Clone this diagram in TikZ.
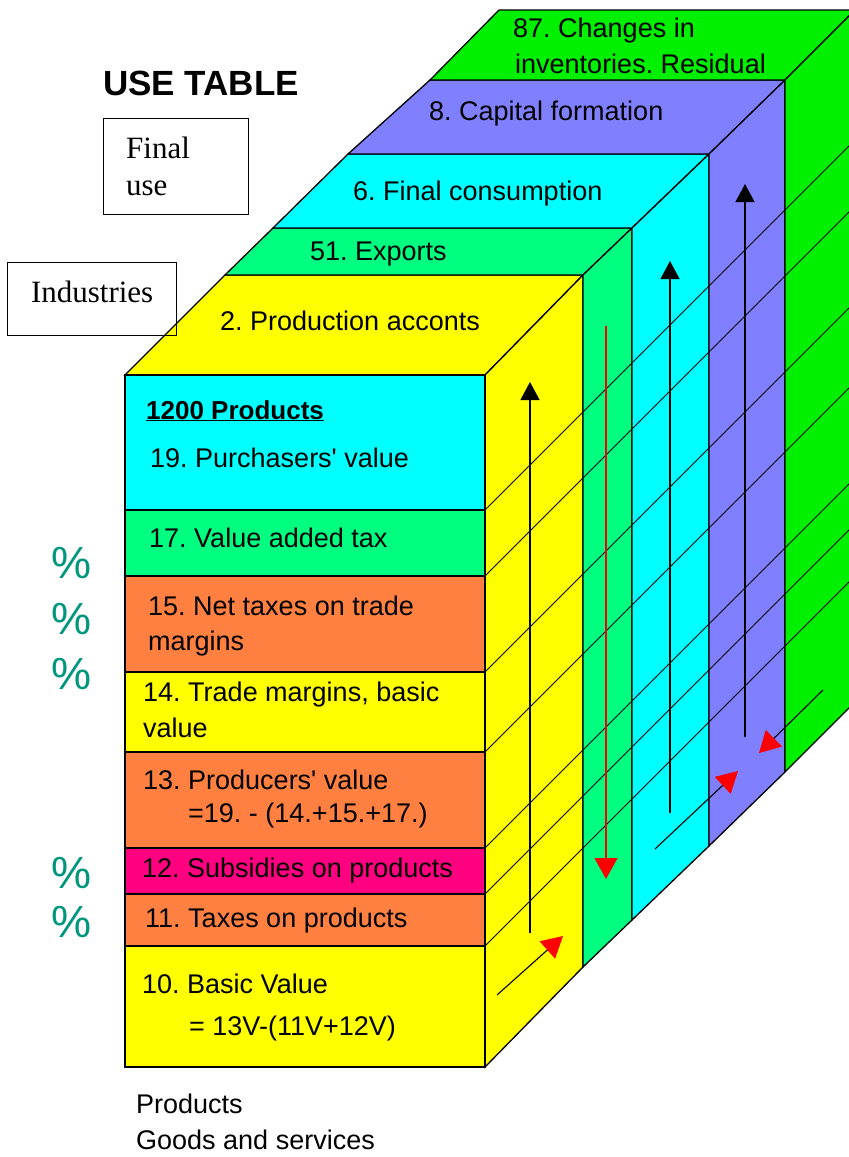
\documentclass[tikz,border=0pt]{standalone}
\usepackage{fontspec}
\setmainfont{Liberation Sans}
\newfontfamily\boxfont{Liberation Serif}
\usetikzlibrary{arrows.meta}
\definecolor{prodyellow}{HTML}{FFFF00}
\definecolor{expgreen}{HTML}{00FF80}
\definecolor{conscyan}{HTML}{00FFFF}
\definecolor{capblue}{HTML}{8080FF}
\definecolor{invgreen}{HTML}{00F000}
\definecolor{taxorange}{HTML}{FF8040}
\definecolor{submagenta}{HTML}{FF0080}
\definecolor{pctteal}{HTML}{00967D}
\frenchspacing

\begin{document}
\begin{tikzpicture}[x=1pt, y=-1pt,
  edge/.style={line width=1.3pt},
  lbl/.style={anchor=base west, inner sep=0pt, font=\fontsize{27}{32}\selectfont},
  boxlbl/.style={draw, line width=1.3pt, anchor=north west, font=\boxfont\fontsize{31}{37}\selectfont},
  pct/.style={text=pctteal, font=\fontsize{45}{50}\selectfont},
  upar/.style={line width=1.2pt, -{Triangle[width=19pt,length=18pt]}},
  redar/.style={line width=1.1pt, -{Triangle[width=23pt,length=21pt,color=red,fill=red]}}]
\useasboundingbox (0,0) rectangle (849,1157);
\clip (0,0) rectangle (849,1157);

\foreach \la/\ya/\ra/\lb/\yb/\rb/\col in {125/375/485/225/275/583/prodyellow, 225/275/583/273/228/632/expgreen,
    273/228/632/348/154/709/conscyan, 348/154/709/430/80/785/capblue, 430/80/785/499/10/855/invgreen} {
  \filldraw[fill=\col, edge] (\la,\ya) -- (\ra,\ya) -- (\rb,\yb) -- (\lb,\yb) -- cycle;
  \filldraw[fill=\col, edge] (\ra,\ya) -- (\rb,\yb) -- (\rb,\yb+692) -- (\ra,\ya+692) -- cycle;
}

\foreach \ya/\yb/\col in {375/510/conscyan, 510/576/expgreen, 576/672/taxorange, 672/752/prodyellow,
    752/848/taxorange, 848/894/submagenta, 894/946/taxorange, 946/1067/prodyellow}
  \filldraw[fill=\col, edge] (125,\ya) rectangle (485,\yb);

\foreach \y in {510,576,672,752,848,894,946}
  \draw[line width=0.9pt] (485,\y) -- ++(370,-370);

\coordinate (prodtail) at (530,933);  \coordinate (prodhead) at (530,382);
\coordinate (expotail) at (606,326);  \coordinate (expohead) at (606,879);
\coordinate (constail) at (670,813);  \coordinate (conshead) at (670,261);
\coordinate (captail) at (745,737);   \coordinate (caphead) at (745,184);
\coordinate (flowa) at (497,995);     \coordinate (flowahead) at (563,936);
\coordinate (flowb) at (655,849);     \coordinate (flowbhead) at (738,771);
\coordinate (flowc) at (823,690);     \coordinate (flowchead) at (759,753);
\draw[upar] (prodtail) -- (prodhead);
\draw[upar] (constail) -- (conshead);
\draw[upar] (captail) -- (caphead);
\draw[redar, red] (expotail) -- (expohead);
\draw[redar] (flowa) -- (flowahead);
\draw[redar] (flowb) -- (flowbhead);
\draw[redar] (flowc) -- (flowchead);

\node[lbl] (inva) at (513,37) {87. Changes in};
\node[lbl] (invb) at (515,73) {inventories. Residual};
\node[lbl] (capf) at (429,120) {8. Capital formation};
\node[lbl] (cons) at (353,200) {6. Final consumption};
\node[lbl] (expo) at (310,260) {51. Exports};
\node[lbl] (prod) at (220,330) {2. Production acconts};

\node[lbl, font=\fontsize{26}{30}\selectfont\bfseries] (head) at (146,419) {\underline{1200 Products}};
\node[lbl] (rowxix) at (150,467) {19. Purchasers\textquotesingle\ value};
\node[lbl] (rowxvii) at (149,547) {17. Value added tax};
\node[lbl] (rowxva) at (148,615) {15. Net taxes on trade};
\node[lbl] (rowxvb) at (148,650) {margins};
\node[lbl] (rowxiva) at (143,701) {14. Trade margins, basic};
\node[lbl] (rowxivb) at (143,737) {value};
\node[lbl] (rowxiiia) at (143,789) {13. Producers\textquotesingle\ value};
\node[lbl] (rowxiiib) at (188,822) {=19. - (14.+15.+17.)};
\node[lbl] (rowxii) at (142,877) {12. Subsidies on products};
\node[lbl] (rowxi) at (145,927) {11. Taxes on products};
\node[lbl] (rowxa) at (142,993) {10. Basic Value};
\node[lbl] (rowxb) at (189,1035) {= 13V-(11V+12V)};
\node[lbl] (goodsa) at (136,1113) {Products};
\node[lbl] (goodsb) at (136,1149) {Goods and services};

\node[anchor=base west, inner sep=0pt, font=\fontsize{35}{40}\selectfont\bfseries] (title) at (103,95) {USE TABLE};
\node[boxlbl, minimum width=145, minimum height=96, text width=100, align=left] (finaluse) at (103,118) {Final\\use};
\node[boxlbl, minimum width=169, minimum height=73, text height=21, text depth=14] (industries) at (7,262) {Industries};

\foreach \y [count=\i] in {563,619,674,873,922}
  \node[pct] (pct\i) at (72,\y) {\%};
\end{tikzpicture}
\end{document}
